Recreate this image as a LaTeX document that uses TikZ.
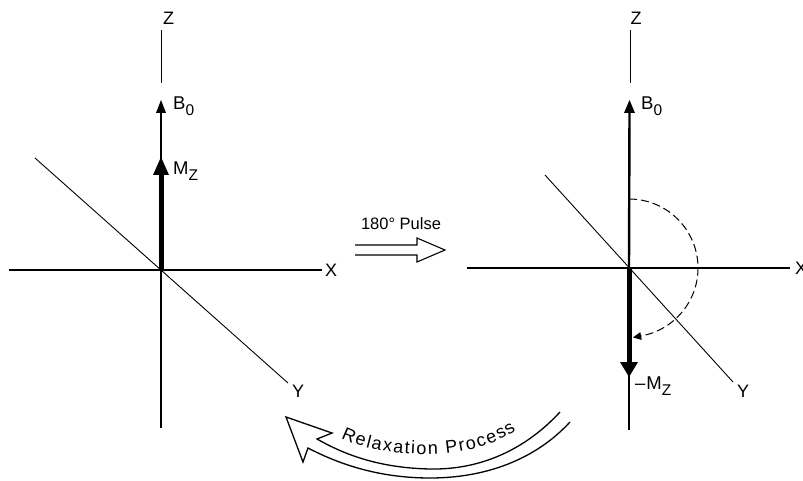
\documentclass[tikz,border=0pt]{standalone}
\usepackage{fontspec}
\setmainfont{Liberation Sans}
\usetikzlibrary{decorations.text}
\begin{document}
\begin{tikzpicture}[x=1pt,y=1pt,
  axis/.style={line width=1.1pt},
  diag/.style={line width=0.9pt},
  lbl/.style={inner sep=0pt,anchor=base,font=\fontsize{18}{18}\selectfont},
  vlbl/.style={inner sep=0pt,anchor=base west,font=\fontsize{18.5}{18.5}\selectfont},
  head/.style={fill=black}]
\newcommand{\sbs}[1]{\lower6pt\hbox{\fontsize{15.5}{15.5}\selectfont #1}}
\useasboundingbox (0,0) rectangle (803,480);
\fill[white] (0,0) rectangle (803,480);

% ---------- left diagram ----------
\coordinate (O1) at (161,210);
\coordinate (X1a) at (9,210);   \coordinate (X1b) at (322,210);
\coordinate (V1) at (161,52);
\coordinate (Y1a) at (35,322);  \coordinate (Y1b) at (288,97);
\coordinate (Z1a) at (161.5,450); \coordinate (Z1b) at (161.5,397);
\draw[axis] (X1a) -- (X1b);
\draw[axis] (O1) -- (V1);
\draw[diag] (Y1a) -- (Y1b);
\draw[line width=1pt] (Z1a) -- (Z1b);
\draw[line width=1.2pt] (O1) -- (161,370);
\fill[head] (161,380) -- (156,367) -- (166,367) -- cycle;
\draw[line width=5pt] (O1) -- (161,310);
\fill[head] (161,323) -- (153,305) -- (169,305) -- cycle;
\node[lbl] (z1) at (168.5,455) {Z};
\node[lbl] (x1) at (331,204) {X};
\node[lbl] (y1) at (298,83) {Y};
\node[vlbl] (b1) at (173,370) {B\sbs{0}};
\node[vlbl] (m1) at (173,305) {M\sbs{Z}};

% ---------- pulse arrow ----------
\node[inner sep=0pt,anchor=base,font=\fontsize{16.5}{16.5}\selectfont] (pulse) at (401,251) {180° Pulse};
\draw[line width=1.1pt,line join=miter] (355,235) -- (417,235) -- (417,242) -- (445,230) -- (417,218) -- (417,225) -- (355,225);

% ---------- right diagram ----------
\coordinate (O2) at (629,212);
\coordinate (X2a) at (467,212); \coordinate (X2b) at (790,212);
\coordinate (V2) at (629,50);
\coordinate (Y2a) at (545,305); \coordinate (Y2b) at (733,98);
\coordinate (Z2a) at (630,450); \coordinate (Z2b) at (630,397);
\draw[axis] (X2a) -- (X2b);
\draw[axis] (O2) -- (V2);
\draw[diag] (Y2a) -- (Y2b);
\draw[line width=1pt] (Z2a) -- (Z2b);
\draw[line width=2.4pt] (O2) -- (629.5,370);
\fill[head] (629.5,380) -- (624,367) -- (635,367) -- cycle;
\draw[line width=5pt] (O2) -- (629,118);
\fill[head] (629,103) -- (620,118) -- (638,118) -- cycle;
\draw[line width=1pt,dash pattern=on 8pt off 4pt] (629,281) arc[start angle=90,end angle=-80,radius=69];
\fill[head] (633,142.6) -- (641.7,140.1) -- (640.3,147.9) -- cycle;
\node[lbl] (z2) at (636,455) {Z};
\node[lbl] (x2) at (801,206) {X};
\node[lbl] (y2) at (743,83) {Y};
\node[vlbl] (b2) at (641,370) {B\sbs{0}};
\node[vlbl] (m2) at (635,91) {\textendash\kern1pt M\sbs{Z}};

% ---------- relaxation arrow ----------
\draw[line width=1.3pt,line join=miter]
  (560,68) .. controls (525,30) and (480,10) .. (430,11)
           .. controls (380,12) and (345,25) .. (317,41)
  -- (332,47) -- (286,63) -- (303,18) -- (308,32)
           .. controls (335,18) and (375,2) .. (430,2)
           .. controls (485,2) and (535,20) .. (570,58);
\path[decorate,decoration={text along path,
   text={|\fontsize{18}{18}\selectfont|Relaxation Process},
   text align={fit to path}}]
  (341,42) .. controls (380,22) and (470,16) .. (516,50);
\end{tikzpicture}
\end{document}
